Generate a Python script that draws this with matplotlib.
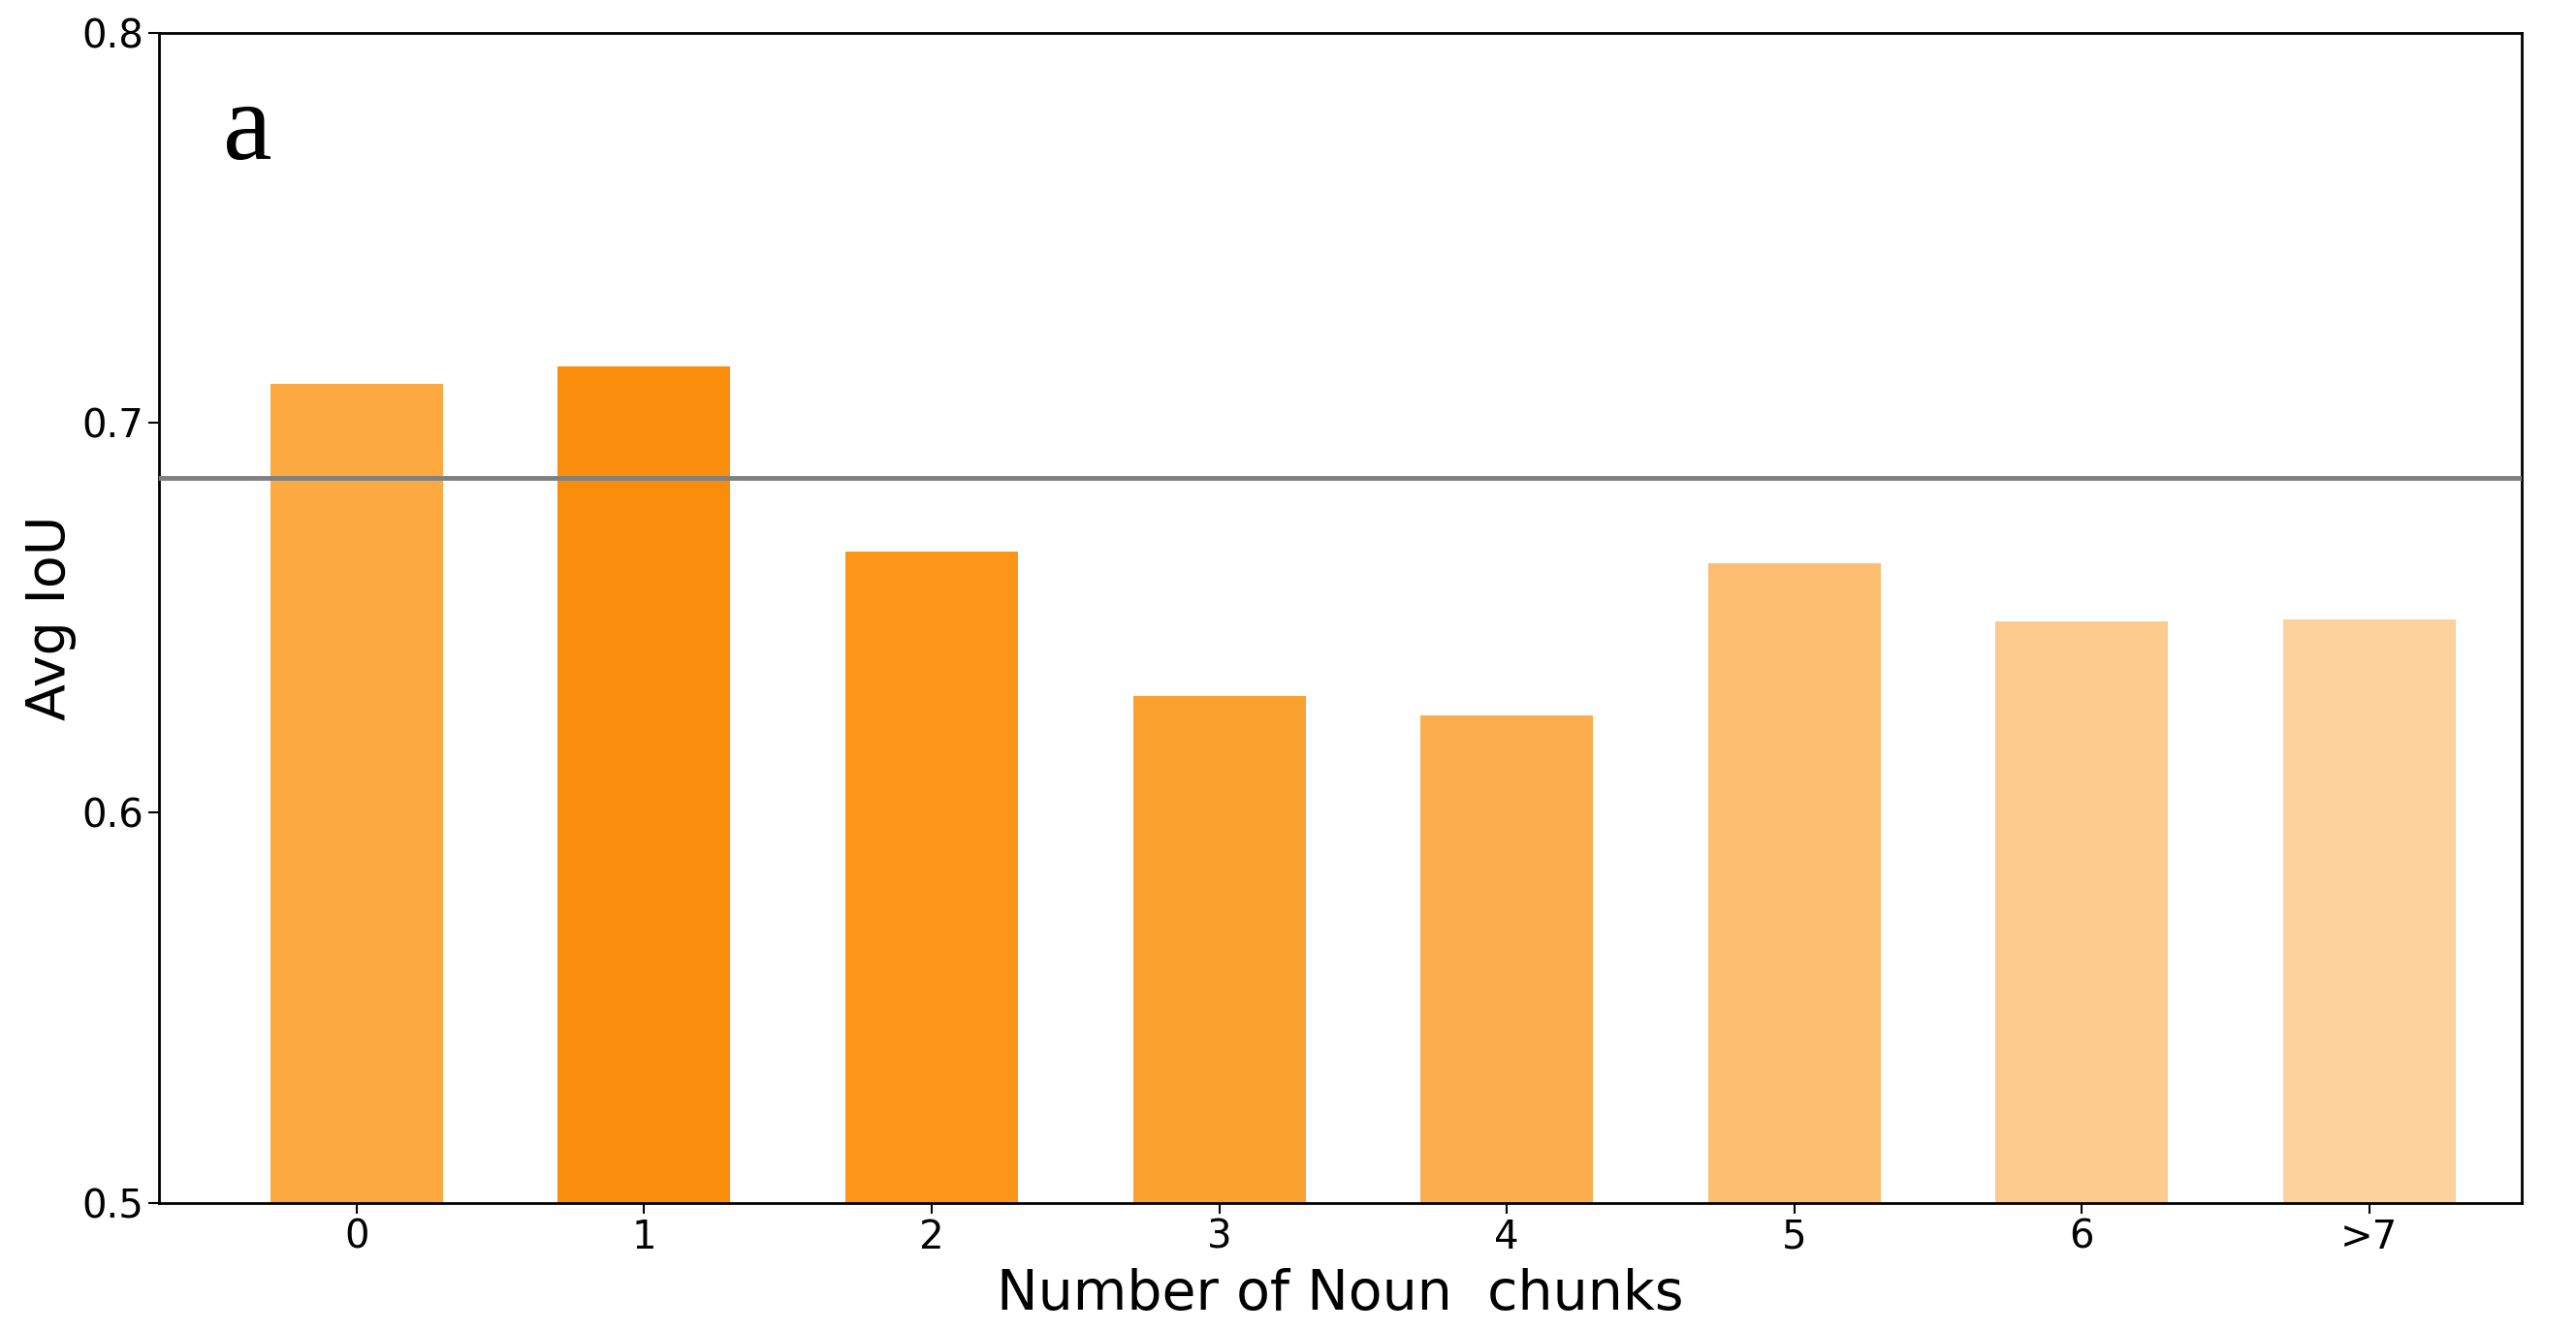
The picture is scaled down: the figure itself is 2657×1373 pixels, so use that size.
import numpy as np
import matplotlib
matplotlib.use("Agg")
import matplotlib.pyplot as plt

# data
categories = ["0", "1", "2", "3", "4", "5", "6", ">7"]
avg_iou = [0.710, 0.7145, 0.667, 0.630, 0.625, 0.664, 0.649, 0.6495]
overall_iou = 0.686
bar_colors = ["#FBA940", "#FB8D0C", "#FB9619", "#FBA12F", "#FCAE4F",
              "#FDBE71", "#FDCA8E", "#FDD29C"]

fig = plt.figure(figsize=(26.57, 13.73), dpi=100)
ax = fig.add_axes([0.0619, 0.0963, 0.9170, 0.8790])

x = np.arange(len(categories))
ax.bar(x, avg_iou, width=0.6, color=bar_colors, zorder=2)
ax.axhline(overall_iou, color="#808080", linewidth=3.5, zorder=3)

ax.set_ylim(0.5, 0.8)
ax.set_xlim(-0.686, 7.53)
ax.set_yticks([0.5, 0.6, 0.7, 0.8])
ax.set_xticks(x)
ax.set_xticklabels(categories)
ax.tick_params(labelsize=29, length=8, width=1.5)
for s in ax.spines.values():
    s.set_linewidth(2)

ax.set_xlabel("Number of Noun  chunks", fontsize=41, labelpad=8)
ax.set_ylabel("Avg IoU", fontsize=40)

ax.text(0.027, 0.915, "a", transform=ax.transAxes, fontsize=82,
        family="Liberation Serif", va="center", ha="left")

fig.savefig("out.png", dpi=100)
